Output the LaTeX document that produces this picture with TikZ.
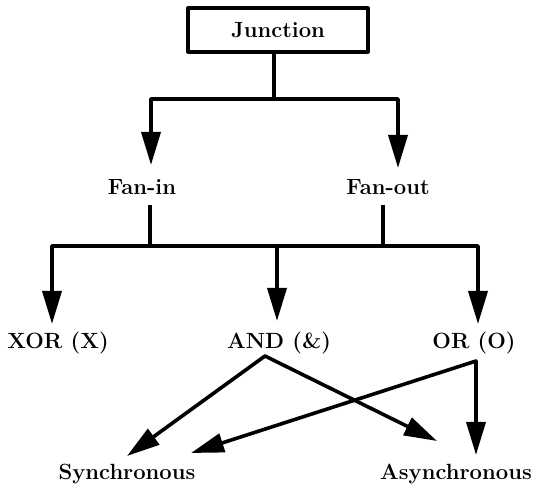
\documentclass[tikz,border=0pt]{standalone}
\usetikzlibrary{arrows.meta}
\begin{document}
\begin{tikzpicture}[x=1pt,y=-1pt,
  line width=3.6pt, line join=round,
  >={Triangle[length=33pt,width=19pt]},
  lbl/.style={font=\fontsize{22}{25}\selectfont\bfseries, inner sep=0pt},
  boxed/.style={lbl, draw, line width=3.2pt, minimum width=180pt, minimum height=44pt}]
\useasboundingbox (0,0) rectangle (539,486);
\node[boxed] (junc) at (278,30) {Junction};
\node[lbl] (fanin) at (142,187) {Fan-in};
\node[lbl] (fanout) at (388,187) {Fan-out};
\node[lbl] (xor) at (58,343) {XOR (X)};
\node[lbl] (and) at (279,343) {AND (\&)};
\node[lbl] (or) at (474,343) {OR (O)};
\node[lbl] (sync) at (127,474) {Synchronous};
\node[lbl] (async) at (456,474) {Asynchronous};
% level 1
\coordinate (split1) at (274,99);
\coordinate (tipFi) at (151,165);
\coordinate (tipFo) at (398,168);
\draw (junc.south -| split1) -- (split1);
\draw[<->] (tipFi) -- (tipFi |- split1) -- (tipFo |- split1) -- (tipFo);
% level 2
\coordinate (split2) at (277,246);
\coordinate (fis) at (150,205);
\coordinate (fos) at (383,205);
\coordinate (tipX) at (52,324);
\coordinate (tipA) at (277,321);
\coordinate (tipO) at (478,324);
\draw (fis) -- (fis |- split2);
\draw (fos) -- (fos |- split2);
\draw[<->] (tipX) -- (tipX |- split2) -- (tipO |- split2) -- (tipO);
\draw[->] (split2) -- (tipA);
% level 3
\coordinate (andb) at (265,356);
\coordinate (orb) at (476,361);
\coordinate (tipS1) at (127,456);
\coordinate (tipS2) at (191,453);
\coordinate (tipAs1) at (437,441);
\coordinate (tipAs2) at (476,455);
\draw[<->] (tipS1) -- (andb) -- (tipAs1);
\draw[<->] (tipS2) -- (orb) -- (tipAs2);
\end{tikzpicture}
\end{document}
